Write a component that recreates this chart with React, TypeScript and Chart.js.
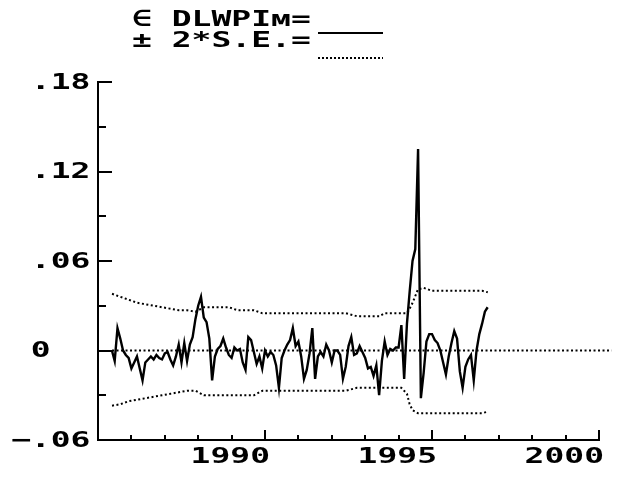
import React, { useEffect, useRef } from "react";
import { Chart, registerables } from "chart.js";

Chart.register(...registerables);

// ---- data ----
const startYear = 1985 + 5 / 12; // first recursive residual (monthly)
const residuals = [
  0.000, -0.007, 0.015, 0.008, 0.000, -0.003, -0.005, -0.012, -0.008, -0.004,
  -0.012, -0.020, -0.008, -0.006, -0.004, -0.006, -0.003, -0.005, -0.006, -0.002,
  -0.001, -0.006, -0.010, -0.004, 0.004, -0.008, 0.005, -0.007, 0.004, 0.009,
  0.021, 0.030, 0.036, 0.022, 0.019, 0.008, -0.020, -0.004, 0.001, 0.003,
  0.008, 0.002, -0.003, -0.005, 0.002, 0.000, 0.001, -0.008, -0.013, 0.009,
  0.007, -0.001, -0.009, -0.004, -0.012, 0.000, -0.004, -0.001, -0.003, -0.010,
  -0.025, -0.005, 0.000, 0.004, 0.007, 0.015, 0.003, 0.006, -0.004, -0.019,
  -0.013, -0.002, 0.015, -0.019, -0.004, -0.001, -0.004, 0.004, 0.000, -0.008,
  0.000, 0.000, -0.003, -0.019, -0.011, 0.003, 0.009, -0.003, -0.002, 0.003,
  -0.001, -0.005, -0.012, -0.011, -0.017, -0.010, -0.030, -0.007, 0.006, -0.003,
  0.001, 0.000, 0.002, 0.002, 0.017, -0.019, 0.018, 0.040, 0.060, 0.068,
  0.135, -0.032, -0.015, 0.006, 0.011, 0.011, 0.007, 0.005, 0.000, -0.008,
  -0.016, -0.004, 0.005, 0.013, 0.008, -0.014, -0.025, -0.011, -0.006, -0.003,
  -0.020, 0.000, 0.011, 0.018, 0.026, 0.029,
];

const bandYears = [
  1985.42, 1985.67, 1985.92, 1986.17, 1986.42, 1986.67, 1986.92, 1987.17, 1987.42, 1987.67,
  1987.92, 1988.17, 1988.92, 1989.17, 1989.67, 1989.92, 1992.42, 1992.75, 1993.42, 1993.58,
  1994.08, 1994.25, 1994.33, 1994.42, 1994.58, 1994.75, 1995.0, 1996.5, 1996.67,
];
const bandUpper = [
  0.038, 0.036, 0.034, 0.032, 0.031, 0.030, 0.029, 0.028, 0.027, 0.027,
  0.026, 0.029, 0.029, 0.027, 0.027, 0.025, 0.025, 0.023, 0.023, 0.025,
  0.025, 0.025, 0.028, 0.032, 0.041, 0.042, 0.040, 0.040, 0.039,
];
const bandLower = [
  -0.037, -0.036, -0.034, -0.033, -0.032, -0.031, -0.030, -0.029, -0.028, -0.027,
  -0.027, -0.030, -0.030, -0.030, -0.030, -0.027, -0.027, -0.025, -0.025, -0.025,
  -0.025, -0.029, -0.036, -0.040, -0.042, -0.042, -0.042, -0.042, -0.041,
];

const zeroLineYears = [1985.42, 2000.38];
const zeroLineValues = [0, 0];

const yTickValues = [-0.06, -0.03, 0, 0.03, 0.06, 0.09, 0.12, 0.15, 0.18];
const yLabelValues = [-0.06, 0, 0.06, 0.12, 0.18];
const yLabelTexts = ["\u2212.06", " 0", " .06", " .12", " .18"];
const xTickYears = [1986, 1987, 1988, 1989, 1990, 1991, 1992, 1993, 1994, 1995, 1996, 1997, 1998, 1999, 2000];
const xLabelYears = [1990, 1995, 2000];
const xLabelTexts = ["1990", "1995", "2000"];

const legendLine1 = "\u2208 DLWPI\u043c=";
const legendLine2 = "\u00b1 2*S.E.=";

// ---- drawing helpers ----
const FONT = "bold 22px 'DejaVu Sans Mono'";
const SX = 1.5;

function drawWide(ctx: CanvasRenderingContext2D, text: string, x: number, y: number, align: string) {
  ctx.save();
  ctx.font = FONT;
  ctx.textBaseline = "middle";
  ctx.textAlign = "left";
  const w = ctx.measureText(text).width * SX;
  const left = align === "right" ? x - w : align === "center" ? x - w / 2 : x;
  ctx.translate(left, y);
  ctx.scale(SX, 1);
  ctx.fillStyle = "#000";
  ctx.fillText(text, 0, 0);
  ctx.restore();
}

const axesPlugin = {
  id: "oldAxes",
  afterDatasetsDraw(chart: any) {
    const { ctx, chartArea: a, scales } = chart;
    const xs = scales.x;
    const ys = scales.y;
    ctx.save();
    ctx.strokeStyle = "#000";
    ctx.lineWidth = 2;
    ctx.lineCap = "square";
    ctx.setLineDash([]);
    ctx.beginPath();
    ctx.moveTo(a.left, a.top);
    ctx.lineTo(a.left, a.bottom);
    ctx.lineTo(a.right, a.bottom);
    ctx.stroke();

    ctx.lineCap = "butt";
    ctx.beginPath();
    yTickValues.forEach((v) => {
      const py = Math.round(ys.getPixelForValue(v));
      const major = yLabelValues.some((m) => Math.abs(m - v) < 1e-9);
      ctx.moveTo(a.left, py);
      ctx.lineTo(a.left + (major ? 14 : 8), py);
    });
    xTickYears.forEach((yr) => {
      const px = Math.round(xs.getPixelForValue(yr));
      const major = xLabelYears.includes(yr);
      ctx.moveTo(px, a.bottom);
      ctx.lineTo(px, a.bottom - (major ? 10 : 5));
    });
    ctx.stroke();

    yLabelValues.forEach((v, i) => {
      drawWide(ctx, yLabelTexts[i], a.left - 87, ys.getPixelForValue(v) + 1, "left");
    });
    xLabelYears.forEach((yr, i) => {
      drawWide(ctx, xLabelTexts[i], xs.getPixelForValue(yr) + 5, a.bottom + 17, "right");
    });

    // legend
    drawWide(ctx, legendLine1, 132, 20, "left");
    drawWide(ctx, legendLine2, 132, 41, "left");
    ctx.lineWidth = 2;
    ctx.beginPath();
    ctx.moveTo(318, 33);
    ctx.lineTo(383, 33);
    ctx.stroke();
    ctx.setLineDash([2, 2]);
    ctx.beginPath();
    ctx.moveTo(318, 58);
    ctx.lineTo(383, 58);
    ctx.stroke();
    ctx.restore();
  },
};

export default function App() {
  const ref = useRef<HTMLCanvasElement>(null);
  useEffect(() => {
    const canvas = ref.current;
    if (!canvas) return;
    const residData = residuals.map((v, i) => ({ x: startYear + i / 12, y: v }));
    const upperData = bandYears.map((yr, i) => ({ x: yr, y: bandUpper[i] }));
    const lowerData = bandYears.map((yr, i) => ({ x: yr, y: bandLower[i] }));
    const zeroData = zeroLineYears.map((yr, i) => ({ x: yr, y: zeroLineValues[i] }));
    const dotted = {
      borderColor: "#000",
      borderWidth: 2,
      borderDash: [2, 2.5],
      pointRadius: 0,
      fill: false,
      tension: 0,
    };
    const chart = new Chart(canvas, {
      type: "line",
      data: {
        datasets: [
          { label: "zero", data: zeroData, ...dotted, clip: false } as any,
          { label: "+2SE", data: upperData, ...dotted } as any,
          { label: "-2SE", data: lowerData, ...dotted } as any,
          {
            label: "DLWPI",
            data: residData,
            borderColor: "#000",
            borderWidth: 2.4,
            pointRadius: 0,
            fill: false,
            tension: 0,
          },
        ],
      },
      options: {
        animation: false,
        responsive: false,
        devicePixelRatio: 1,
        layout: { padding: { left: 98, right: 25, top: 82, bottom: 42 } },
        plugins: { legend: { display: false }, tooltip: { enabled: false } },
        scales: {
          x: { type: "linear", min: 1985, max: 2000, display: false },
          y: { type: "linear", min: -0.06, max: 0.18, display: false },
        },
      },
      plugins: [axesPlugin],
    });
    return () => chart.destroy();
  }, []);
  return (
    <div style={{ position: "fixed", left: 0, top: 0, width: 624, height: 482, background: "#fff" }}>
      <canvas ref={ref} width={624} height={482} style={{ display: "block", width: 624, height: 482 }} />
    </div>
  );
}
